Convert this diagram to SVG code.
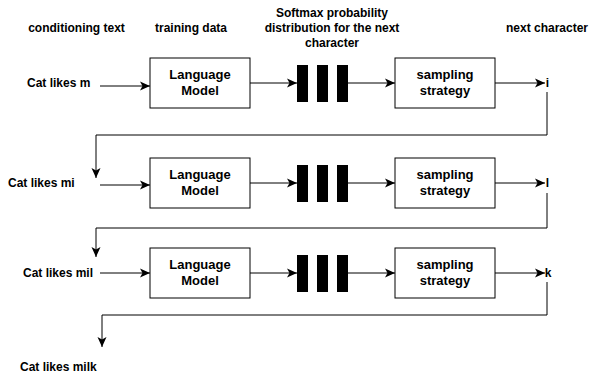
<svg xmlns="http://www.w3.org/2000/svg" width="591" height="377" viewBox="0 0 591 377">
<defs>
<marker id="arr" viewBox="0 0 10 10" refX="10" refY="5" markerWidth="10" markerHeight="10" markerUnits="userSpaceOnUse" orient="auto">
<path d="M0,0.5 L10,5 L0,9.5 L2.5,5 Z" fill="#000"/>
</marker>
<style>
text{font-family:"Liberation Sans",Arial,sans-serif;font-weight:bold;fill:#000}
.h{font-size:12px}
.b{font-size:13px;text-anchor:middle}
.box{fill:#fff;stroke:#000;stroke-width:1}
.bar{fill:#000}
.c{fill:none;stroke:#000;stroke-width:1}
</style>
</defs>
<rect width="591" height="377" fill="#fff"/>
<g id="headers">
<text class="h" x="76.5" y="32" text-anchor="middle">conditioning text</text>
<text class="h" x="191" y="32" text-anchor="middle">training data</text>
<text class="h" x="332" y="17" text-anchor="middle">Softmax probability</text>
<text class="h" x="332" y="32" text-anchor="middle">distribution for the next</text>
<text class="h" x="332" y="47" text-anchor="middle">character</text>
<text class="h" x="547" y="32" text-anchor="middle">next character</text>
</g>
<g id="labels">
<text class="h" x="27" y="87">Cat likes m</text>
<text class="h" x="8" y="187">Cat likes mi</text>
<text class="h" x="23" y="277">Cat likes mil</text>
<text class="h" x="20" y="371">Cat likes milk</text>
<text class="h" x="547.5" y="87" text-anchor="middle">i</text>
<text class="h" x="547.5" y="187" text-anchor="middle">l</text>
<text class="h" x="548" y="277" text-anchor="middle">k</text>
</g>
<g id="lm1"><rect class="box" x="150" y="58" width="100" height="50"/><text class="b" x="200" y="79">Language</text><text class="b" x="200" y="95">Model</text></g>
<g id="lm2"><rect class="box" x="150" y="158" width="100" height="50"/><text class="b" x="200" y="179">Language</text><text class="b" x="200" y="195">Model</text></g>
<g id="lm3"><rect class="box" x="150" y="248" width="100" height="50"/><text class="b" x="200" y="269">Language</text><text class="b" x="200" y="285">Model</text></g>
<g id="ss1"><rect class="box" x="395" y="58" width="100" height="50"/><text class="b" x="445" y="79">sampling</text><text class="b" x="445" y="95">strategy</text></g>
<g id="ss2"><rect class="box" x="395" y="158" width="100" height="50"/><text class="b" x="445" y="179">sampling</text><text class="b" x="445" y="195">strategy</text></g>
<g id="ss3"><rect class="box" x="395" y="248" width="100" height="50"/><text class="b" x="445" y="269">sampling</text><text class="b" x="445" y="285">strategy</text></g>
<g id="sm1"><rect class="bar" x="297" y="65" width="11" height="37"/><rect class="bar" x="317" y="65" width="11" height="37"/><rect class="bar" x="337" y="65" width="11" height="37"/></g>
<g id="sm2"><rect class="bar" x="297" y="165" width="11" height="37"/><rect class="bar" x="317" y="165" width="11" height="37"/><rect class="bar" x="337" y="165" width="11" height="37"/></g>
<g id="sm3"><rect class="bar" x="297" y="255" width="11" height="37"/><rect class="bar" x="317" y="255" width="11" height="37"/><rect class="bar" x="337" y="255" width="11" height="37"/></g>
<g id="connectors">
<path class="c" d="M100,86 H150" marker-end="url(#arr)"/>
<path class="c" d="M250,83 H297" marker-end="url(#arr)"/>
<path class="c" d="M348,83 H395" marker-end="url(#arr)"/>
<path class="c" d="M495,83 H545" marker-end="url(#arr)"/>
<path class="c" d="M547,92 V135 H96 V178" marker-end="url(#arr)"/>
<path class="c" d="M100,185 H150" marker-end="url(#arr)"/>
<path class="c" d="M250,183 H297" marker-end="url(#arr)"/>
<path class="c" d="M348,183 H395" marker-end="url(#arr)"/>
<path class="c" d="M495,183 H545" marker-end="url(#arr)"/>
<path class="c" d="M547,193 V228 H96 V257" marker-end="url(#arr)"/>
<path class="c" d="M100,273 H150" marker-end="url(#arr)"/>
<path class="c" d="M250,273 H297" marker-end="url(#arr)"/>
<path class="c" d="M348,273 H395" marker-end="url(#arr)"/>
<path class="c" d="M495,273 H545" marker-end="url(#arr)"/>
<path class="c" d="M547,282 V315 H102 V347" marker-end="url(#arr)"/>
</g>
</svg>
